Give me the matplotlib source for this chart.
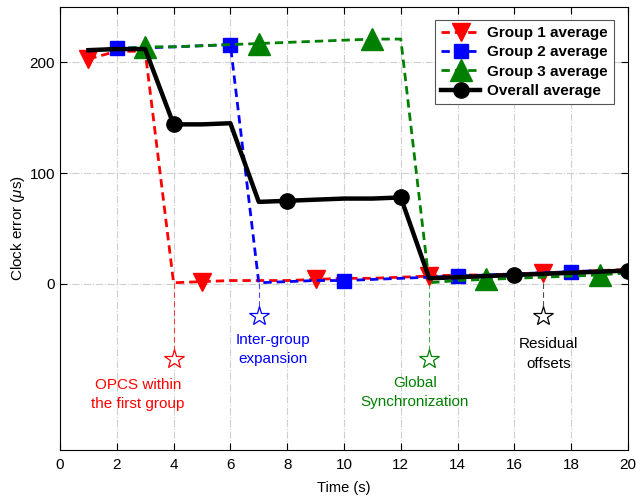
import numpy as np
import matplotlib.pyplot as plt

plt.rcParams['font.family'] = ['Liberation Sans', 'DejaVu Sans']
plt.rcParams['mathtext.fontset'] = 'custom'
plt.rcParams['mathtext.it'] = 'Liberation Sans:italic'

# time steps (s)
t = list(range(1, 21))

group1 = [203, 210, 210, 1, 2, 3, 3, 3, 4, 5, 5, 6, 7, 8, 8, 9, 10, 11, 12, 13]
group2 = [210, 213, 213, 214, 215, 216, 1, 2, 3, 3, 4, 5, 6, 7, 8, 9, 10, 11, 12, 12]
group3 = [211, 212, 214, 214, 215, 216, 217, 218, 219, 220, 221, 221, 1, 3, 4, 5, 6, 7, 8, 10]
overall = [211, 212, 212, 144, 144, 145, 74, 75, 76, 77, 77, 78, 5, 6, 7, 8, 9, 10, 11, 12]

# annotations: star position, text position, label
ann_x = [4, 7, 13, 17]
ann_star_y = [-68, -29, -68, -29]
ann_text_x = [2.75, 7.5, 12.5, 17.2]
ann_text_y = [-85, -44, -83, -48]
ann_labels = ['OPCS within\nthe first group', 'Inter-group\nexpansion',
              'Global\nSynchronization', 'Residual\noffsets']
ann_colors = ['#ff0000', '#0000ff', '#008000', 'black']
ann_src = [group1, group2, group3, overall]

fig = plt.figure(figsize=(6.36, 4.97), dpi=100)
ax = fig.add_axes([0.0943, 0.0946, 0.8931, 0.8914])

ax.plot(t, group1, '--', color='#ff0000', lw=2, dashes=(3, 1.8), marker='v', ms=13.5,
        markevery=(0, 4), label='Group 1 average', zorder=3)
ax.plot(t, group2, '--', color='#0000ff', lw=2, dashes=(3, 1.8), marker='s', ms=10,
        markevery=(1, 4), label='Group 2 average', zorder=3)
ax.plot(t, group3, '--', color='#008000', lw=2, dashes=(3, 1.8), marker='^', ms=15.5,
        markevery=(2, 4), label='Group 3 average', zorder=3)
ax.plot(t, overall, '-', color='black', lw=3.2, marker='o', ms=11,
        markevery=(3, 4), label='Overall average', zorder=4)

for x, sy, tx, ty, lab, c, src in zip(ann_x, ann_star_y, ann_text_x, ann_text_y,
                                       ann_labels, ann_colors, ann_src):
    y0 = src[t.index(x)]
    ax.plot([x, x], [y0, sy], '--', color=c, lw=0.8, alpha=0.7, dashes=(5, 3), zorder=2)
    ax.plot([x], [sy], marker='*', ms=15, mfc='white', mec=c, mew=0.9, zorder=5)
    ax.text(tx, ty, lab, color=c, ha='center', va='top', fontsize=11, linespacing=1.5)

ax.set_xlim(0, 20)
ax.set_ylim(-150, 250)
ax.set_xticks(range(0, 21, 2))
ax.set_yticks([0, 100, 200])
ax.tick_params(direction='in', top=True, right=True, labelsize=11, length=5)
ax.tick_params(axis='x', pad=6)
ax.grid(True, color='#cfcfcf', ls='-.', lw=0.8)
ax.set_axisbelow(True)
ax.set_xlabel('Time (s)', fontsize=10.5, labelpad=6)
ax.set_ylabel('Clock error ($\\mu$s)', fontsize=11, labelpad=2)

leg = ax.legend(loc='upper right', bbox_to_anchor=(0.9754, 0.9707), borderaxespad=0,
                fancybox=False, edgecolor='#555555', framealpha=1,
                prop={'weight': 'bold', 'size': 11}, handlelength=2.5,
                handletextpad=0.5, labelspacing=0.35, borderpad=0.4)
leg.get_frame().set_linewidth(0.8)

fig.savefig('out.png', dpi=100)
